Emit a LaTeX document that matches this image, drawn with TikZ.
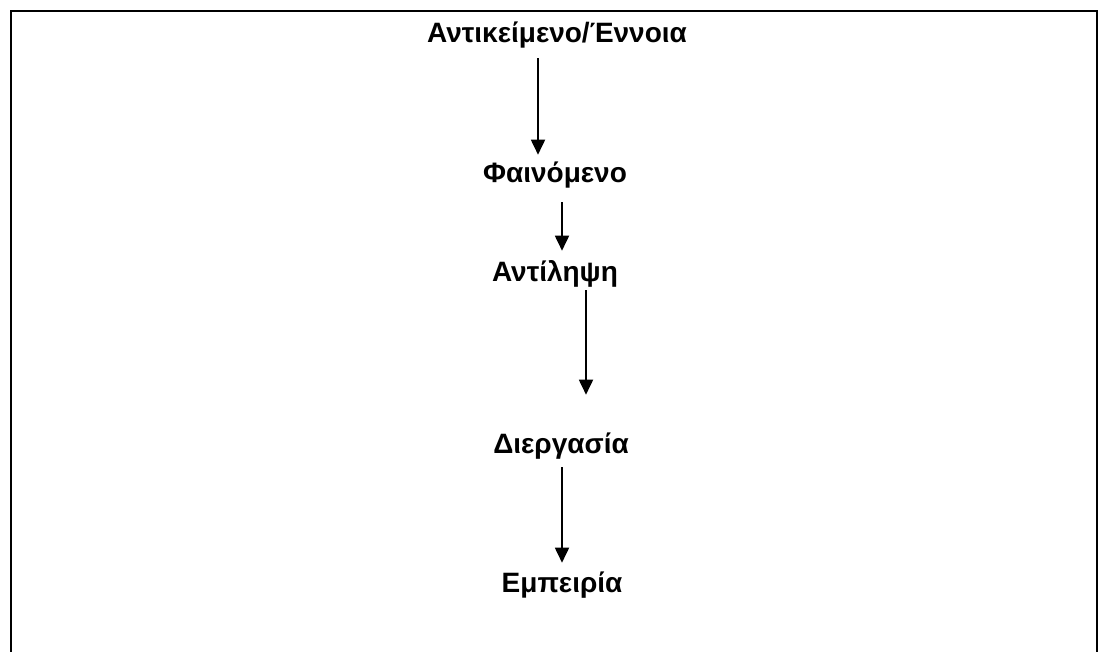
\documentclass[tikz,border=0pt]{standalone}
\usepackage{fontspec}
\setmainfont{Liberation Sans}
\usetikzlibrary{arrows.meta}
\usetikzlibrary{positioning}

\begin{document}
\begin{tikzpicture}[x=1pt,y=-1pt,semithick]
	\tikzstyle{word}=[font=\fontsize{28}{32}\selectfont\bfseries, text=black, inner sep=0pt, text height=21pt, text depth=7pt, anchor=base]
	\tikzstyle{flow}=[line width=1.8pt, -{Triangle[width=14pt,length=15pt]}]
	\useasboundingbox (0,0) rectangle (1109,652);
	% frame, open at the bottom
	\draw[line width=1.5pt] (11,660) -- (11,11) -- (1097,11) -- (1097,660);

			\node[word] (obj)   at (557,43)  {Αντικείμενο/Έννοια};
			\node[word] (phen)  at (555,183) {Φαινόμενο};
			\node[word] (perc)  at (555,282) {Αντίληψη};
			\node[word] (proc)  at (561,453) {Διεργασία};
			\node[word] (exper) at (562,592) {Εμπειρία};

			\draw[flow] ([xshift=-19pt,yshift=-8pt]obj.south) -- ([xshift=-17pt,yshift=7pt]phen.north);
			\draw[flow] ([xshift=7pt,yshift=-12pt]phen.south) -- ([xshift=7pt,yshift=10pt]perc.north);
			\draw[flow] ([xshift=31pt,yshift=-1pt]perc.south) -- ([xshift=25pt,yshift=37pt]proc.north);
			\draw[flow] ([xshift=1pt,yshift=-7pt]proc.south) -- ([xshift=0pt,yshift=8pt]exper.north);
\end{tikzpicture}
\end{document}
